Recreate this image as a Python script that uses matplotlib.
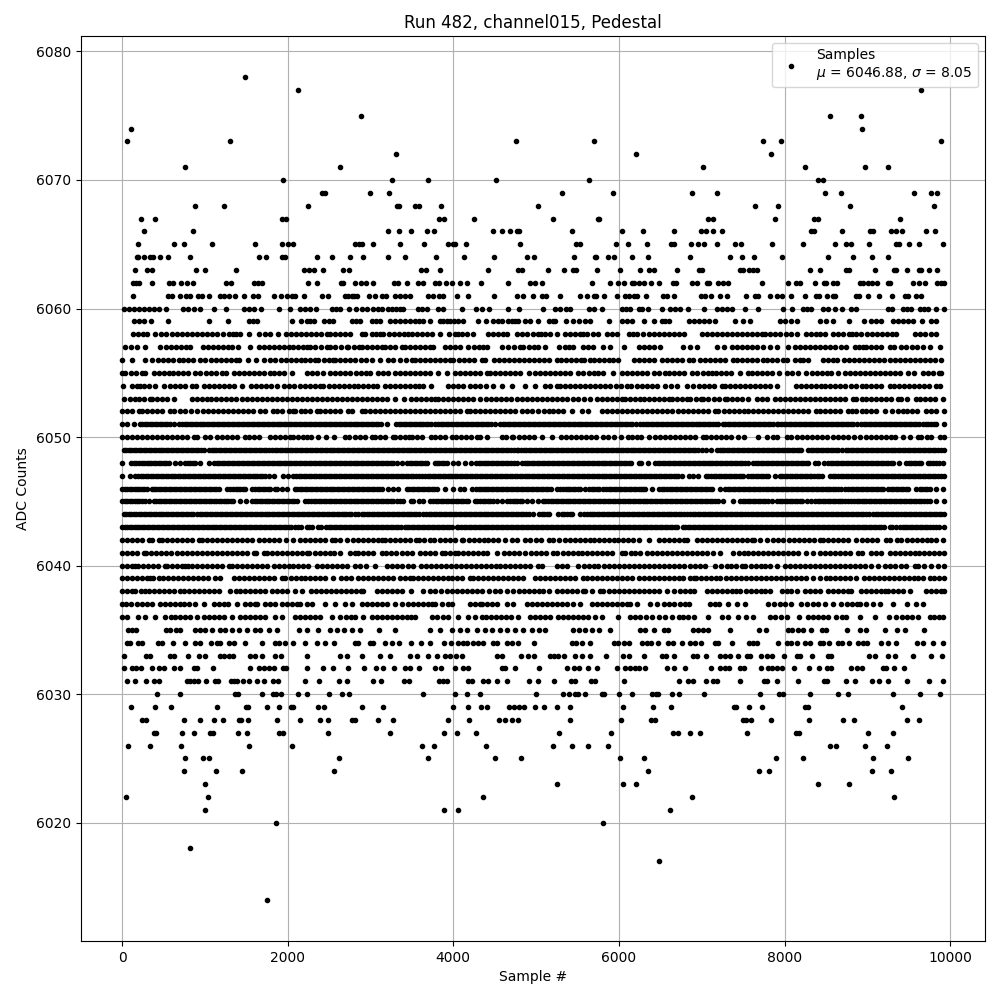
import matplotlib
matplotlib.use('Agg')
import matplotlib.pyplot as plt

# sample numbers, one list per ADC count
s6014 = [1745]
s6017 = [6490]
s6018 = [816]
s6020 = [1853, 5803]
s6021 = [997, 3891, 4060, 6622]
s6022 = [44, 1033, 4362, 6888, 9321]
s6023 = [997, 5249, 6044, 6201, 8406, 8779]
s6024 = [744, 1130, 1443, 2565, 6357, 7695, 7815, 9056, 9285]
s6025 = [756, 973, 1045, 2625, 3698, 4506, 4820, 6008, 6309, 7900, 8225, 9068, 9490]
s6026 = [68, 334, 708, 1528, 2058, 3626, 3771, 4398, 5201, 5430, 5622, 5863, 8550, 8622, 8972, 9237]
s6027 = [382, 414, 720, 864, 1057, 1093, 1395, 1503, 1901, 1942, 2492, 3240, 3891, 4048, 4277,
         5273, 5900, 6659, 6719, 6863, 6984, 7550, 8140, 8177, 9008, 9309]
s6028 = [245, 285, 744, 937, 1105, 1214, 1407, 1431, 1515, 1865, 2143, 2396, 2492, 2782, 2818, 3095, 3276,
         3932, 4193, 4555, 4627, 4711, 4784, 5406, 6020, 6382, 6430, 7502, 7538, 7598, 7839, 8297, 8707,
         8839, 9478, 9622]
s6029 = [105, 394, 587, 1142, 1491, 1520, 1745, 1901, 2038, 2062, 2360, 2444, 2902, 3156, 3992, 4181, 4338,
         4410, 4675, 4728, 4792, 4856, 4989, 5092, 5249, 5406, 6044, 6406, 6635, 7390, 7414, 7574, 7731,
         8249, 8285, 9422]
s6030 = [418, 695, 1359, 1395, 1684, 1825, 1857, 1922, 2119, 2239, 2504, 2661, 2746, 3638, 4024, 4161, 4325,
         5001, 5321, 5394, 5466, 5502, 5586, 5791, 5815, 5996, 6153, 6394, 6442, 6478, 6647, 6731, 7032,
         7707, 7936, 7984, 8309, 8646, 8767, 9309, 9634, 9875]
s6031 = [56, 153, 293, 382, 442, 780, 816, 864, 913, 1009, 1118, 1154, 1311, 1347, 1383, 1455, 1528, 1624,
         1712, 1817, 1877, 2215, 2384, 2625, 2722, 3035, 3132, 3409, 3469, 3831, 3879, 3928, 4181, 4229,
         4362, 4422, 4530, 4651, 4916, 5020, 5213, 5418, 5466, 5659, 5707, 6056, 6731, 6839, 6900, 7056,
         7141, 7181, 7466, 7755, 7791, 7912, 8165, 8478, 8514, 8743, 8851, 9056, 9140, 9249, 9478, 9743, 9912]
s6032 = [20, 125, 165, 225, 366, 442, 502, 623, 695, 864, 905, 1093, 1540, 1648, 1708, 1769, 1829, 1942,
         1974, 2239, 2432, 2553, 2734, 2927, 3071, 3156, 3288, 3417, 3477, 3590, 3783, 3847, 4016, 4121,
         4181, 4583, 4623, 4744, 5032, 5370, 5454, 5514, 5622, 5731, 5972, 6068, 6128, 6189, 6237, 6321,
         6586, 6671, 6799, 7116, 7225, 7281, 7333, 7466, 7514, 7719, 7803, 7851, 7912, 7964, 8116, 8297,
         8418, 8514, 8558, 8803, 8875, 8936, 9189, 9229, 9321, 9442]
s6033 = [28, 285, 342, 575, 631, 792, 929, 1001, 1178, 1226, 1286, 1335, 1548, 1608, 1692, 1841, 1914, 2239,
         2633, 2714, 2902, 3120, 3240, 3481, 3566, 3698, 3799, 3899, 3960, 4036, 4100, 4522, 4583, 4812,
         4904, 4972, 5173, 5221, 5261, 5333, 5466, 5550, 5647, 5839, 6044, 6116, 6297, 6526, 6570, 6667,
         6900, 6940, 7052, 7221, 7281, 7341, 7442, 7542, 7582, 7719, 7791, 7851, 7996, 8145, 8193, 8333,
         8526, 8566, 9020, 9092, 9249, 9333, 9546, 9767, 9900]
s6034 = [60, 100, 189, 241, 430, 482, 611, 756, 884, 945, 1073, 1146, 1186, 1294, 1347, 1479, 1688, 1849,
         1889, 1970, 2070, 2215, 2348, 2456, 2565, 2818, 2854, 2995, 3035, 3176, 3264, 3349, 3493, 3614,
         3723, 3883, 3976, 4060, 4121, 4169, 4241, 4301, 4354, 4482, 4530, 4643, 4703, 4784, 4980, 5430,
         5486, 5550, 5647, 5936, 5984, 6056, 6116, 6277, 6337, 6386, 6478, 6598, 6659, 6767, 6859, 6920,
         6988, 7161, 7201, 7369, 7574, 7622, 7671, 7924, 8028, 8084, 8145, 8245, 8305, 8426, 8466, 8538,
         8646, 8695, 8775, 8888, 8948, 8996, 9165, 9249, 9349, 9598, 9671, 9791, 9912]
s6035 = [68, 125, 169, 535, 583, 647, 703, 884, 945, 1005, 1085, 1186, 1246, 1327, 1407, 1508, 1608, 1668,
         1769, 1865, 2131, 2231, 2360, 2513, 2593, 2685, 2782, 2870, 3108, 3300, 3719, 3839, 3980, 4080,
         4161, 4289, 4382, 4462, 4563, 4643, 4744, 4844, 4952, 5032, 5112, 5442, 5514, 5594, 5675, 5755,
         5888, 6257, 6317, 6418, 6550, 6598, 6892, 6960, 7020, 7080, 7345, 7695, 7775, 8044, 8092, 8165,
         8225, 8321, 8458, 8498, 8755, 8908, 8980, 9213, 9357, 9450, 9683]
s6036 = [0, 60, 189, 281, 394, 523, 585, 640, 700, 760, 824, 905, 993, 1050, 1110, 1170, 1230, 1327, 1427,
         1490, 1550, 1610, 1670, 1729, 1849, 1930, 2090, 2150, 2210, 2270, 2330, 2392, 2533, 2633, 2700,
         2760, 2814, 2915, 3015, 3075, 3135, 3195, 3255, 3315, 3375, 3435, 3490, 3536, 3738, 3800, 3880,
         3940, 4060, 4181, 4262, 4343, 4400, 4460, 4520, 4580, 4640, 4700, 4786, 4927, 4990, 5050, 5110,
         5169, 5269, 5330, 5390, 5450, 5510, 5572, 5632, 5710, 5793, 5995, 6136, 6200, 6260, 6330, 6398,
         6479, 6560, 6640, 6720, 6780, 6839, 6908, 7080, 7241, 7321, 7442, 7530, 7622, 7823, 7890, 7960,
         8024, 8177, 8285, 8345, 8405, 8465, 8526, 8626, 8690, 8747, 8908, 9088, 9261, 9349, 9415, 9480,
         9545, 9610, 9751, 9810, 9870, 9920]
s6037 = [0, 52, 113, 181, 240, 300, 362, 462, 520, 575, 643, 700, 750, 804, 884, 985, 1105, 1165, 1225, 1285,
         1387, 1487, 1550, 1608, 1628, 1729, 1790, 1850, 1930, 1990, 2050, 2110, 2151, 2231, 2291, 2452,
         2573, 2693, 2774, 2894, 2955, 3015, 3075, 3135, 3195, 3294, 3375, 3456, 3515, 3575, 3635, 3695,
         3738, 3778, 3860, 3939, 3988, 4202, 4262, 4322, 4350, 4410, 4470, 4524, 4645, 4725, 4887, 4950,
         5010, 5070, 5130, 5190, 5250, 5310, 5370, 5451, 5532, 5673, 5735, 5795, 5855, 5915, 5975, 6035,
         6095, 6136, 6217, 6378, 6460, 6539, 6600, 6670, 6741, 6800, 6852, 7100, 7161, 7213, 7321, 7422,
         7522, 7803, 7870, 7940, 8010, 8084, 8205, 8270, 8340, 8410, 8486, 8586, 8687, 8750, 8810, 8870,
         8908, 8988, 9070, 9149, 9309, 9478, 9590, 9671]
s6038 = [0, 60, 120, 161, 225, 281, 321, 382, 445, 505, 565, 625, 703, 743, 805, 865, 925, 985, 1045, 1105,
         1166, 1307, 1370, 1430, 1490, 1550, 1610, 1670, 1730, 1809, 1869, 1930, 1990, 2090, 2171, 2279,
         2340, 2400, 2460, 2520, 2580, 2640, 2700, 2760, 2820, 2880, 2915, 3075, 3140, 3200, 3256, 3315,
         3375, 3484, 3637, 3718, 3778, 3847, 3919, 3985, 4045, 4105, 4165, 4225, 4282, 4350, 4435, 4500,
         4564, 4645, 4725, 4790, 4850, 4910, 4970, 5030, 5088, 5161, 5249, 5310, 5370, 5430, 5490, 5572,
         5592, 5680, 5773, 5813, 5880, 5940, 6000, 6060, 6120, 6180, 6240, 6300, 6360, 6420, 6480, 6580,
         6660, 6740, 6800, 6860, 6907, 7060, 7125, 7185, 7245, 7301, 7361, 7413, 7462, 7530, 7590, 7650,
         7710, 7770, 7823, 7964, 8025, 8084, 8153, 8245, 8310, 8370, 8430, 8526, 8586, 8650, 8710, 8770,
         8807, 8928, 8990, 9050, 9110, 9170, 9209, 9249, 9315, 9375, 9435, 9510, 9711, 9770, 9830, 9890,
         9925]
s6039 = [0, 60, 120, 180, 240, 300, 342, 374, 440, 500, 560, 620, 680, 740, 800, 860, 920, 980, 1040, 1126,
         1186, 1347, 1410, 1470, 1530, 1590, 1650, 1710, 1770, 1830, 1930, 1970, 2035, 2095, 2155, 2215,
         2275, 2335, 2395, 2455, 2553, 2641, 2700, 2760, 2854, 2914, 2975, 3035, 3095, 3155, 3215, 3275,
         3357, 3415, 3476, 3508, 3570, 3630, 3690, 3750, 3810, 3870, 3930, 3990, 4050, 4110, 4202, 4242,
         4300, 4360, 4423, 4476, 4540, 4600, 4660, 4720, 4780, 4846, 4987, 5048, 5108, 5170, 5230, 5290,
         5350, 5410, 5470, 5572, 5613, 5675, 5735, 5795, 5855, 5915, 5975, 6035, 6095, 6155, 6237, 6300,
         6360, 6420, 6480, 6540, 6600, 6660, 6720, 6780, 6860, 6907, 6932, 6995, 7055, 7115, 7175, 7221,
         7293, 7355, 7415, 7475, 7535, 7595, 7655, 7715, 7775, 7835, 7895, 7955, 8015, 8075, 8135, 8195,
         8255, 8345, 8434, 8495, 8555, 8615, 8675, 8735, 8787, 8867, 8956, 9020, 9080, 9140, 9200, 9260,
         9320, 9380, 9440, 9500, 9560, 9610, 9671, 9751, 9810, 9870, 9925]
s6040 = [0, 60, 120, 161, 193, 255, 315, 375, 435, 523, 543, 605, 665, 725, 764, 792, 844, 905, 965, 1025,
         1085, 1145, 1205, 1286, 1327, 1390, 1450, 1510, 1570, 1630, 1690, 1750, 1829, 1889, 1950, 2010,
         2070, 2130, 2190, 2250, 2352, 2412, 2475, 2535, 2595, 2655, 2715, 2814, 2874, 2947, 3055, 3196,
         3260, 3320, 3380, 3456, 3516, 3605, 3670, 3730, 3790, 3850, 3910, 3970, 4030, 4090, 4150, 4210,
         4270, 4330, 4390, 4450, 4510, 4570, 4625, 4690, 4750, 4810, 4870, 4930, 5028, 5068, 5249, 5310,
         5370, 5511, 5575, 5635, 5695, 5753, 5822, 5885, 5945, 6005, 6065, 6125, 6185, 6245, 6305, 6365,
         6425, 6485, 6545, 6605, 6665, 6725, 6785, 6860, 6920, 6980, 7040, 7161, 7230, 7301, 7349, 7420,
         7482, 7522, 7590, 7650, 7710, 7770, 7830, 7912, 8004, 8070, 8130, 8190, 8250, 8310, 8370, 8430,
         8490, 8550, 8610, 8670, 8730, 8790, 8850, 8910, 8970, 9048, 9128, 9209, 9270, 9330, 9410, 9470,
         9570, 9610, 9680, 9771, 9851, 9925]
s6041 = [0, 60, 120, 180, 261, 289, 350, 410, 470, 530, 590, 663, 723, 785, 845, 905, 965, 1025, 1085, 1145,
         1205, 1265, 1325, 1385, 1445, 1505, 1588, 1616, 1708, 1749, 1810, 1870, 1930, 1990, 2050, 2110,
         2170, 2231, 2263, 2325, 2385, 2445, 2505, 2565, 2633, 2754, 2814, 2854, 2915, 2975, 3035, 3136,
         3188, 3250, 3310, 3380, 3444, 3504, 3597, 3660, 3720, 3780, 3859, 3899, 3960, 4020, 4052, 4115,
         4175, 4235, 4295, 4363, 4403, 4524, 4612, 4675, 4735, 4795, 4866, 4935, 5000, 5060, 5120, 5209,
         5257, 5320, 5380, 5440, 5500, 5560, 5620, 5680, 5740, 5800, 5860, 5920, 6035, 6076, 6140, 6200,
         6260, 6337, 6398, 6460, 6520, 6580, 6640, 6700, 6760, 6821, 6880, 6940, 7000, 7060, 7141, 7221,
         7381, 7445, 7505, 7565, 7625, 7685, 7745, 7805, 7865, 7925, 7985, 8045, 8105, 8165, 8257, 8345,
         8426, 8490, 8550, 8610, 8670, 8730, 8790, 8888, 8936, 9048, 9110, 9168, 9269, 9330, 9390, 9450,
         9510, 9570, 9630, 9690, 9750, 9810, 9870, 9925]
s6042 = [0, 60, 120, 180, 240, 321, 362, 442, 482, 545, 605, 665, 725, 785, 845, 925, 965, 1030, 1090, 1150,
         1210, 1270, 1330, 1390, 1450, 1510, 1570, 1648, 1708, 1770, 1830, 1889, 1982, 2070, 2151, 2215,
         2275, 2335, 2395, 2455, 2533, 2573, 2633, 2722, 2785, 2845, 2905, 2965, 3025, 3085, 3136, 3176,
         3240, 3300, 3360, 3420, 3480, 3549, 3590, 3650, 3718, 3770, 3839, 3900, 3960, 4020, 4101, 4121,
         4185, 4245, 4305, 4365, 4425, 4485, 4545, 4625, 4705, 4770, 4866, 4927, 4995, 5060, 5157, 5209,
         5282, 5345, 5405, 5465, 5525, 5585, 5645, 5705, 5765, 5825, 5885, 5945, 5995, 6044, 6110, 6170,
         6237, 6358, 6479, 6545, 6605, 6665, 6725, 6785, 6827, 6940, 7005, 7065, 7125, 7185, 7245, 7305,
         7365, 7425, 7485, 7545, 7602, 7635, 7700, 7783, 7863, 7925, 7984, 8056, 8120, 8180, 8240, 8300,
         8360, 8426, 8466, 8530, 8590, 8650, 8710, 8770, 8867, 8936, 9000, 9060, 9120, 9229, 9269, 9361,
         9410, 9475, 9535, 9595, 9655, 9715, 9775, 9835, 9912]
s6043 = [0, 30, 60, 90, 120, 150, 180, 210, 240, 270, 300, 330, 360, 390, 420, 450, 480, 510, 540, 570, 600,
         630, 660, 690, 720, 750, 780, 810, 840, 870, 900, 930, 960, 990, 1020, 1050, 1080, 1110, 1140, 1170,
         1200, 1230, 1260, 1290, 1320, 1350, 1380, 1410, 1440, 1470, 1500, 1530, 1560, 1590, 1620, 1650,
         1680, 1710, 1740, 1770, 1800, 1830, 1860, 1890, 1920, 1950, 1980, 2010, 2040, 2085, 2130, 2163,
         2230, 2290, 2372, 2404, 2465, 2525, 2585, 2645, 2705, 2765, 2825, 2885, 2945, 3005, 3065, 3125,
         3185, 3245, 3305, 3365, 3415, 3436, 3500, 3560, 3620, 3680, 3740, 3800, 3860, 3920, 3980, 4040,
         4060, 4125, 4185, 4245, 4305, 4365, 4425, 4485, 4545, 4605, 4665, 4725, 4785, 4845, 4905, 4965,
         5025, 5085, 5145, 5205, 5265, 5325, 5385, 5445, 5505, 5565, 5625, 5685, 5745, 5805, 5865, 5925,
         5985, 6045, 6105, 6165, 6225, 6285, 6345, 6405, 6465, 6525, 6585, 6645, 6705, 6771, 6799, 6860,
         6920, 6980, 7040, 7100, 7160, 7220, 7280, 7340, 7400, 7460, 7520, 7580, 7640, 7700, 7760, 7820,
         7880, 7940, 8000, 8060, 8120, 8180, 8240, 8300, 8360, 8420, 8480, 8540, 8600, 8660, 8720, 8780,
         8840, 8900, 8960, 9020, 9080, 9140, 9200, 9269, 9301, 9349, 9390, 9455, 9515, 9575, 9635, 9695,
         9755, 9831, 9864, 9925,
         2260, 2495, 2555, 2615, 2675, 2735, 2795, 2855, 2915, 2975, 3035, 3095, 3155, 3215, 3275, 3335, 3470,
         3530, 3590, 3650, 3710, 3770, 3830, 3890, 3950, 4095, 4155, 4215, 4275, 4335, 4395, 4455, 4515, 4575,
         4635, 4695, 4755, 4815, 4875, 4935, 4995, 5055, 5115, 5175, 5235, 5295, 5355, 5415, 5475, 5535, 5595,
         5655, 5715, 5775, 5835, 5895, 5955, 6015, 6075, 6135, 6195, 6255, 6315, 6375, 6435, 6495, 6555, 6615,
         6675, 6830, 6890, 6950, 7010, 7070, 7130, 7190, 7250, 7310, 7370, 7430, 7490, 7550, 7610, 7670, 7730,
         7790, 7850, 7910, 7970, 8030, 8090, 8150, 8210, 8270, 8330, 8390, 8450, 8510, 8570, 8630, 8690, 8750,
         8810, 8870, 8930, 8990, 9050, 9110, 9170, 9425, 9485, 9545, 9605, 9665, 9725, 9790]
s6044 = [20, 80, 140, 200, 260, 320, 380, 440, 500, 560, 620, 680, 740, 800, 860, 945, 965, 1030, 1090, 1150,
         1210, 1270, 1330, 1390, 1450, 1510, 1570, 1630, 1690, 1750, 1810, 1870, 1930, 1990, 2050, 2110,
         2170, 2230, 2290, 2350, 2410, 2470, 2530, 2590, 2650, 2710, 2770, 2854, 2894, 2955, 3015, 3075,
         3135, 3195, 3255, 3315, 3375, 3435, 3495, 3555, 3629, 3670, 3735, 3795, 3855, 3915, 3975, 4035,
         4095, 4155, 4215, 4275, 4335, 4395, 4455, 4515, 4575, 4635, 4695, 4755, 4815, 4875, 4967, 5036,
         5100, 5160, 5269, 5310, 5375, 5435, 5532, 5580, 5645, 5705, 5765, 5825, 5885, 5945, 6005, 6065,
         6125, 6185, 6245, 6305, 6365, 6425, 6485, 6545, 6605, 6665, 6725, 6785, 6859, 6920, 6980, 7040,
         7100, 7160, 7220, 7280, 7340, 7400, 7460, 7522, 7562, 7625, 7685, 7745, 7805, 7865, 7925, 7985,
         8045, 8105, 8165, 8225, 8285, 8345, 8405, 8466, 8498, 8560, 8620, 8680, 8740, 8800, 8860, 8920,
         8980, 9068, 9100, 9165, 9225, 9285, 9345, 9410, 9438, 9500, 9560, 9620, 9680, 9740, 9800, 9860,
         9925,
         50, 110, 170, 230, 290, 350, 410, 470, 530, 590, 650, 710, 770, 830, 900, 1000, 1060, 1120, 1180, 1240,
         1300, 1360, 1420, 1480, 1540, 1600, 1660, 1720, 1780, 1840, 1900, 1960, 2020, 2080, 2140, 2200, 2260,
         2320, 2380, 2440, 2500, 2560, 2620, 2680, 2740, 2810, 2925, 2985, 3045, 3105, 3165, 3225, 3285, 3345,
         3405, 3465, 3525, 3590, 3705, 3765, 3825, 3885, 3945, 4005, 4065, 4125, 4185, 4245, 4305, 4365, 4425,
         4485, 4545, 4605, 4665, 4725, 4785, 4845, 4920, 5070, 5130, 5340, 5405, 5610, 5675, 5735, 5795, 5855,
         5915, 5975, 6035, 6095, 6155, 6215, 6275, 6335, 6395, 6455, 6515, 6575, 6635, 6695, 6755, 6820, 6890,
         6950, 7010, 7070, 7130, 7190, 7250, 7310, 7370, 7430, 7490, 7595, 7655, 7715, 7775, 7835, 7895, 7955,
         8015, 8075, 8135, 8195, 8255, 8315, 8375, 8435, 8530, 8590, 8650, 8710, 8770, 8830, 8890, 8950, 9020,
         9130, 9195, 9255, 9315, 9375, 9470, 9530, 9590, 9650, 9710, 9770, 9830, 9890]
s6045 = [0, 60, 120, 180, 240, 321, 382, 445, 505, 565, 625, 685, 745, 805, 865, 925, 985, 1045, 1105, 1165,
         1225, 1285, 1345, 1427, 1495, 1568, 1630, 1690, 1750, 1810, 1870, 1930, 1990, 2050, 2110, 2211,
         2251, 2315, 2375, 2435, 2495, 2555, 2615, 2675, 2735, 2795, 2855, 2915, 2975, 3035, 3095, 3155,
         3215, 3277, 3317, 3355, 3395, 3484, 3516, 3580, 3640, 3718, 3758, 3820, 3880, 3940, 4000, 4060,
         4120, 4180, 4262, 4290, 4355, 4415, 4475, 4532, 4592, 4653, 4715, 4775, 4835, 4887, 4947, 5028,
         5080, 5145, 5205, 5265, 5325, 5385, 5445, 5505, 5565, 5625, 5685, 5745, 5805, 5865, 5925, 5985,
         6045, 6105, 6165, 6225, 6285, 6345, 6405, 6465, 6525, 6585, 6645, 6705, 6765, 6825, 6885, 6945,
         7005, 7065, 7125, 7201, 7253, 7381, 7462, 7525, 7585, 7645, 7705, 7765, 7843, 7912, 7975, 8035,
         8095, 8155, 8215, 8325, 8366, 8430, 8490, 8550, 8610, 8670, 8730, 8807, 8835, 8900, 8960, 9020,
         9080, 9140, 9200, 9260, 9320, 9380, 9440, 9500, 9560, 9620, 9680, 9751, 9831, 9925,
         30, 90, 150, 210, 280, 415, 475, 535, 595, 655, 715, 775, 835, 895, 955, 1015, 1075, 1135, 1195, 1255,
         1315, 1600, 1660, 1720, 1780, 1840, 1900, 1960, 2020, 2080, 2285, 2345, 2405, 2465, 2525, 2585, 2645,
         2705, 2765, 2825, 2885, 2945, 3005, 3065, 3125, 3185, 3245, 3790, 3850, 3910, 3970, 4030, 4090, 4150,
         4320, 4385, 4445, 4690, 4745, 4805, 5110, 5175, 5235, 5295, 5355, 5415, 5475, 5535, 5595, 5655, 5715,
         5775, 5835, 5895, 5955, 6015, 6075, 6135, 6195, 6255, 6315, 6375, 6435, 6495, 6555, 6615, 6675, 6735,
         6795, 6855, 6915, 6975, 7035, 7095, 7160, 7495, 7555, 7615, 7675, 7735, 7800, 7945, 8005, 8065, 8125,
         8185, 8275, 8400, 8460, 8520, 8580, 8640, 8700, 8770, 8870, 8930, 8990, 9050, 9110, 9170, 9230, 9290,
         9350, 9410, 9470, 9530, 9590, 9650, 9715]
s6046 = [0, 60, 120, 180, 240, 300, 362, 382, 445, 505, 565, 625, 685, 745, 805, 865, 925, 985, 1045, 1105,
         1165, 1266, 1307, 1370, 1430, 1490, 1568, 1608, 1670, 1730, 1790, 1849, 1869, 1930, 1990, 2090,
         2110, 2175, 2235, 2295, 2355, 2415, 2475, 2535, 2595, 2655, 2715, 2775, 2835, 2895, 2955, 3015,
         3075, 3135, 3216, 3268, 3335, 3436, 3500, 3560, 3620, 3680, 3740, 3800, 3899, 4000, 4081, 4129,
         4222, 4274, 4335, 4395, 4455, 4515, 4575, 4635, 4695, 4755, 4815, 4875, 4935, 4995, 5055, 5115,
         5175, 5249, 5290, 5355, 5415, 5475, 5535, 5592, 5640, 5705, 5765, 5813, 5846, 5910, 5970, 6030,
         6090, 6150, 6210, 6270, 6317, 6398, 6479, 6519, 6585, 6645, 6705, 6765, 6825, 6885, 6945, 7005,
         7065, 7121, 7221, 7281, 7345, 7405, 7465, 7525, 7585, 7645, 7703, 7743, 7805, 7865, 7925, 7985,
         8045, 8105, 8165, 8225, 8285, 8345, 8405, 8465, 8525, 8585, 8645, 8727, 8767, 8830, 8890, 8950,
         9010, 9070, 9130, 9189, 9249, 9315, 9375, 9435, 9495, 9590, 9631, 9695, 9755, 9831, 9912,
         30, 90, 150, 210, 270, 415, 475, 535, 595, 655, 715, 775, 835, 895, 955, 1015, 1075, 1135, 1340, 1400,
         1460, 1640, 1700, 1760, 2145, 2205, 2265, 2325, 2385, 2445, 2505, 2565, 2625, 2685, 2745, 2805, 2865,
         2925, 2985, 3045, 3105, 3470, 3530, 3590, 3650, 3710, 3770, 4305, 4365, 4425, 4485, 4545, 4605, 4665,
         4725, 4785, 4845, 4905, 4965, 5025, 5085, 5145, 5320, 5385, 5445, 5505, 5675, 5735, 5880, 5940, 6000,
         6060, 6120, 6180, 6240, 6295, 6550, 6615, 6675, 6735, 6795, 6855, 6915, 6975, 7035, 7095, 7315, 7375,
         7435, 7495, 7555, 7615, 7675, 7775, 7835, 7895, 7955, 8015, 8075, 8135, 8195, 8255, 8315, 8375, 8435,
         8495, 8555, 8615, 8685, 8800, 8860, 8920, 8980, 9040, 9100, 9160, 9285, 9345, 9405, 9465, 9665, 9725]
s6047 = [0, 100, 161, 225, 285, 345, 405, 465, 525, 585, 645, 705, 765, 825, 885, 945, 1005, 1065, 1125, 1185,
         1245, 1305, 1365, 1425, 1485, 1545, 1605, 1665, 1725, 1829, 1942, 2005, 2062, 2102, 2165, 2225,
         2285, 2345, 2405, 2465, 2525, 2585, 2645, 2705, 2765, 2825, 2885, 2945, 3005, 3065, 3125, 3185,
         3245, 3305, 3365, 3425, 3485, 3545, 3617, 3657, 3720, 3780, 3840, 3900, 3960, 4020, 4080, 4140,
         4200, 4260, 4320, 4380, 4440, 4500, 4560, 4620, 4680, 4740, 4800, 4860, 4920, 4980, 5040, 5100,
         5160, 5220, 5280, 5340, 5400, 5460, 5520, 5580, 5640, 5700, 5760, 5820, 5880, 5940, 6000, 6060,
         6120, 6180, 6240, 6300, 6360, 6420, 6480, 6540, 6600, 6660, 6719, 6759, 6841, 6900, 6960, 7052,
         7080, 7145, 7205, 7265, 7325, 7385, 7445, 7502, 7562, 7625, 7685, 7745, 7805, 7884, 7944, 8005,
         8065, 8125, 8185, 8245, 8305, 8325, 8390, 8450, 8546, 8586, 8650, 8710, 8770, 8830, 8890, 8950,
         9010, 9070, 9130, 9190, 9250, 9310, 9370, 9430, 9490, 9550, 9610, 9670, 9730, 9790, 9850, 9925,
         190, 255, 315, 375, 435, 495, 555, 615, 675, 735, 795, 855, 915, 975, 1035, 1095, 1155, 1215, 1275, 1335,
         1395, 1455, 1515, 1575, 1635, 1695, 1780, 2135, 2195, 2255, 2315, 2375, 2435, 2495, 2555, 2615, 2675,
         2735, 2795, 2855, 2915, 2975, 3035, 3095, 3155, 3215, 3275, 3335, 3395, 3455, 3515, 3580, 3690, 3750,
         3810, 3870, 3930, 3990, 4050, 4110, 4170, 4230, 4290, 4350, 4410, 4470, 4530, 4590, 4650, 4710, 4770,
         4830, 4890, 4950, 5010, 5070, 5130, 5190, 5250, 5310, 5370, 5430, 5490, 5550, 5610, 5670, 5730, 5790,
         5850, 5910, 5970, 6030, 6090, 6150, 6210, 6270, 6330, 6390, 6450, 6510, 6570, 6630, 6690, 7110, 7175,
         7235, 7295, 7355, 7415, 7475, 7595, 7655, 7715, 7775, 7975, 8035, 8095, 8155, 8215, 8275, 8355, 8420,
         8615, 8680, 8740, 8800, 8860, 8920, 8980, 9040, 9100, 9160, 9220, 9280, 9340, 9400, 9460, 9520, 9580,
         9640, 9700, 9760, 9820, 9885]
s6048 = [0, 109, 141, 205, 265, 325, 385, 445, 505, 565, 643, 695, 764, 825, 885, 945, 1045, 1113, 1175, 1235,
         1295, 1355, 1415, 1475, 1535, 1595, 1655, 1715, 1775, 1835, 1895, 1955, 2015, 2075, 2135, 2195,
         2255, 2315, 2375, 2435, 2495, 2555, 2615, 2675, 2735, 2795, 2855, 2915, 2975, 3035, 3095, 3155,
         3215, 3277, 3317, 3375, 3444, 3505, 3565, 3625, 3685, 3778, 3798, 3860, 3920, 4000, 4060, 4141,
         4210, 4274, 4335, 4395, 4455, 4515, 4575, 4635, 4695, 4766, 4826, 4890, 4950, 5010, 5070, 5130,
         5190, 5250, 5310, 5370, 5430, 5490, 5550, 5610, 5670, 5730, 5790, 5850, 5910, 5970, 6030, 6090,
         6150, 6237, 6265, 6346, 6438, 6500, 6560, 6620, 6680, 6740, 6800, 6860, 6920, 6980, 7040, 7100,
         7160, 7220, 7280, 7340, 7400, 7460, 7522, 7562, 7622, 7685, 7745, 7805, 7865, 7925, 7985, 8045,
         8105, 8165, 8225, 8285, 8366, 8406, 8478, 8526, 8590, 8650, 8710, 8770, 8830, 8890, 8950, 9010,
         9070, 9130, 9190, 9250, 9309, 9381, 9470, 9530, 9590, 9650, 9731, 9759, 9825, 9912,
         170, 235, 295, 355, 415, 475, 535, 795, 855, 1145, 1205, 1265, 1325, 1385, 1445, 1505, 1565, 1625, 1685,
         1745, 1805, 1865, 1925, 1985, 2045, 2105, 2165, 2225, 2285, 2345, 2405, 2465, 2525, 2585, 2645, 2705,
         2765, 2825, 2885, 2945, 3005, 3065, 3125, 3185, 3245, 3475, 3535, 3595, 3655, 3830, 3890, 4305, 4365,
         4425, 4485, 4545, 4605, 4665, 4730, 4860, 4920, 4980, 5040, 5100, 5160, 5220, 5280, 5340, 5400, 5460,
         5520, 5580, 5640, 5700, 5760, 5820, 5880, 5940, 6000, 6060, 6120, 6470, 6530, 6590, 6650, 6710, 6770,
         6830, 6890, 6950, 7010, 7070, 7130, 7190, 7250, 7310, 7370, 7430, 7490, 7655, 7715, 7775, 7835, 7895,
         7955, 8015, 8075, 8135, 8195, 8255, 8560, 8620, 8680, 8740, 8800, 8860, 8920, 8980, 9040, 9100, 9160,
         9220, 9280, 9500, 9560, 9620, 9795, 9870]
s6049 = [20, 80, 140, 200, 260, 320, 380, 440, 500, 560, 620, 680, 740, 800, 860, 920, 985, 1045, 1110, 1170,
         1230, 1290, 1350, 1410, 1470, 1530, 1590, 1650, 1710, 1769, 1809, 1875, 1935, 1995, 2055, 2115,
         2175, 2235, 2295, 2355, 2415, 2475, 2535, 2595, 2655, 2715, 2775, 2835, 2895, 2955, 3015, 3075,
         3135, 3195, 3255, 3315, 3375, 3435, 3495, 3555, 3615, 3675, 3735, 3795, 3855, 3915, 3975, 4035,
         4095, 4155, 4215, 4275, 4335, 4395, 4455, 4515, 4575, 4635, 4695, 4766, 4786, 4850, 4910, 4970,
         5030, 5090, 5150, 5210, 5270, 5330, 5390, 5450, 5510, 5570, 5630, 5690, 5750, 5810, 5870, 5930,
         5990, 6050, 6110, 6170, 6230, 6290, 6350, 6410, 6470, 6530, 6590, 6650, 6710, 6770, 6830, 6890,
         6950, 7052, 7116, 7181, 7245, 7305, 7365, 7425, 7485, 7545, 7605, 7665, 7725, 7785, 7845, 7905,
         7965, 8025, 8085, 8145, 8205, 8285, 8350, 8410, 8470, 8530, 8590, 8650, 8739, 8767, 8830, 8890,
         8950, 9010, 9070, 9130, 9190, 9250, 9310, 9370, 9430, 9490, 9550, 9610, 9670, 9730, 9790, 9850,
         9925,
         50, 110, 170, 230, 290, 350, 410, 470, 530, 590, 650, 710, 770, 830, 890, 950, 1080, 1140, 1200, 1260,
         1320, 1380, 1440, 1500, 1560, 1620, 1680, 1740, 1845, 1905, 1965, 2025, 2085, 2145, 2205, 2265, 2325,
         2385, 2445, 2505, 2565, 2625, 2685, 2745, 2805, 2865, 2925, 2985, 3045, 3105, 3165, 3225, 3285, 3345,
         3405, 3465, 3525, 3585, 3645, 3705, 3765, 3825, 3885, 3945, 4005, 4065, 4125, 4185, 4245, 4305, 4365,
         4425, 4485, 4545, 4605, 4665, 4730, 4820, 4880, 4940, 5000, 5060, 5120, 5180, 5240, 5300, 5360, 5420,
         5480, 5540, 5600, 5660, 5720, 5780, 5840, 5900, 5960, 6020, 6080, 6140, 6200, 6260, 6320, 6380, 6440,
         6500, 6560, 6620, 6680, 6740, 6800, 6860, 6920, 7000, 7215, 7275, 7335, 7395, 7455, 7515, 7575, 7635,
         7695, 7755, 7815, 7875, 7935, 7995, 8055, 8115, 8175, 8320, 8380, 8440, 8500, 8560, 8620, 8695, 8800,
         8860, 8920, 8980, 9040, 9100, 9160, 9220, 9280, 9340, 9400, 9460, 9520, 9580, 9640, 9700, 9760, 9820,
         9885]
s6050 = [0, 60, 120, 180, 240, 300, 360, 420, 480, 540, 600, 660, 720, 780, 864, 905, 1005, 1065, 1146, 1210,
         1270, 1330, 1390, 1487, 1528, 1590, 1648, 1781, 1845, 1905, 1965, 2030, 2062, 2125, 2185, 2231,
         2279, 2372, 2460, 2565, 2693, 2746, 2810, 2870, 2930, 3015, 3055, 3120, 3180, 3277, 3297, 3360,
         3420, 3468, 3496, 3560, 3620, 3726, 3778, 3840, 3900, 3980, 4032, 4095, 4155, 4215, 4290, 4322,
         4403, 4584, 4640, 4705, 4725, 4790, 4850, 4910, 4970, 5068, 5193, 5298, 5360, 5420, 5480, 5540,
         5600, 5660, 5725, 5813, 5874, 5935, 6023, 6104, 6156, 6220, 6265, 6358, 6438, 6500, 6560, 6620,
         6680, 6740, 6800, 6860, 6920, 7020, 7052, 7115, 7175, 7235, 7295, 7355, 7442, 7514, 7683, 7791,
         7855, 7915, 8024, 8084, 8145, 8210, 8270, 8330, 8390, 8450, 8510, 8586, 8647, 8707, 8770, 8839,
         8916, 8980, 9040, 9100, 9160, 9220, 9280, 9340, 9430, 9518, 9610, 9651, 9715, 9775, 9872, 9924]
s6051 = [0, 60, 141, 213, 275, 335, 395, 455, 515, 575, 683, 723, 785, 845, 905, 965, 1025, 1085, 1145, 1205,
         1265, 1325, 1385, 1445, 1505, 1565, 1625, 1685, 1745, 1805, 1865, 1925, 1985, 2045, 2105, 2165,
         2225, 2285, 2345, 2405, 2465, 2525, 2585, 2645, 2705, 2765, 2825, 2885, 2945, 3005, 3065, 3125,
         3196, 3309, 3370, 3430, 3490, 3550, 3610, 3670, 3730, 3819, 3847, 3910, 3970, 4030, 4090, 4150,
         4210, 4270, 4330, 4390, 4450, 4564, 4596, 4660, 4720, 4780, 4840, 4900, 4960, 5020, 5080, 5140,
         5200, 5260, 5320, 5380, 5440, 5500, 5560, 5620, 5680, 5740, 5800, 5860, 5920, 5980, 6040, 6100,
         6160, 6257, 6290, 6355, 6415, 6475, 6535, 6595, 6655, 6715, 6775, 6835, 6895, 6955, 7015, 7075,
         7135, 7200, 7261, 7281, 7345, 7405, 7465, 7525, 7585, 7645, 7705, 7765, 7825, 7904, 7924, 7990,
         8050, 8110, 8170, 8230, 8290, 8350, 8410, 8470, 8530, 8590, 8650, 8710, 8770, 8830, 8928, 8956,
         9020, 9080, 9140, 9200, 9260, 9320, 9380, 9440, 9500, 9560, 9620, 9671, 9703, 9770, 9830, 9925,
         245, 305, 365, 425, 485, 545, 630, 755, 815, 875, 935, 995, 1055, 1115, 1175, 1235, 1295, 1355, 1415,
         1475, 1535, 1595, 1655, 1715, 1775, 1835, 1895, 1955, 2015, 2075, 2135, 2195, 2255, 2315, 2375, 2435,
         2495, 2555, 2615, 2675, 2735, 2795, 2855, 2915, 2975, 3035, 3095, 3340, 3400, 3460, 3520, 3580, 3640,
         3700, 3775, 3880, 3940, 4000, 4060, 4120, 4180, 4240, 4300, 4360, 4420, 4505, 4630, 4690, 4750, 4810,
         4870, 4930, 4990, 5050, 5110, 5170, 5230, 5290, 5350, 5410, 5470, 5530, 5590, 5650, 5710, 5770, 5830,
         5890, 5950, 6010, 6070, 6130, 6210, 6325, 6385, 6445, 6505, 6565, 6625, 6685, 6745, 6805, 6865, 6925,
         6985, 7045, 7105, 7170, 7315, 7375, 7435, 7495, 7555, 7615, 7675, 7735, 7795, 7865, 7960, 8020, 8080,
         8140, 8200, 8260, 8320, 8380, 8440, 8500, 8560, 8620, 8680, 8740, 8800, 8880, 8990, 9050, 9110, 9170,
         9230, 9290, 9350, 9410, 9470, 9530, 9590, 9735, 9800]
s6052 = [0, 60, 120, 201, 241, 305, 365, 425, 485, 583, 631, 704, 764, 830, 905, 977, 1040, 1100, 1160, 1220,
         1280, 1340, 1400, 1460, 1520, 1580, 1668, 1729, 1817, 1869, 1935, 2010, 2070, 2090, 2155, 2215, 2275,
         2352, 2392, 2455, 2515, 2575, 2635, 2734, 2774, 2894, 2935, 3000, 3060, 3120, 3180, 3240, 3300,
         3357, 3420, 3480, 3540, 3600, 3660, 3720, 3780, 3840, 3900, 3960, 4020, 4080, 4161, 4202, 4265,
         4325, 4385, 4445, 4505, 4565, 4625, 4685, 4745, 4826, 4887, 4947, 5028, 5090, 5150, 5210, 5269,
         5330, 5431, 5552, 5632, 5793, 5855, 5914, 5975, 6040, 6100, 6160, 6220, 6280, 6340, 6400, 6460,
         6520, 6580, 6644, 6719, 6780, 6840, 6900, 6960, 7020, 7080, 7161, 7201, 7265,
         7325, 7385, 7445, 7505, 7565, 7625, 7685, 7745, 7805, 7865, 7925, 7985, 8045, 8105, 8165, 8225,
         8285, 8386, 8426, 8490, 8550, 8610, 8670, 8767, 8819, 8867, 8930, 8990, 9050, 9110, 9209, 9301,
         9365, 9425, 9485, 9545, 9605, 9711, 9771, 9835, 9925]
s6053 = [28, 90, 150, 210, 270, 342, 362, 425, 485, 545, 623, 844, 905, 965, 1025, 1073, 1135, 1195, 1255, 1315,
         1375, 1447, 1510, 1570, 1630, 1690, 1750, 1810, 1870, 1930, 1990, 2050, 2110, 2170, 2230, 2290,
         2350, 2410, 2470, 2530, 2590, 2650, 2713, 2774, 2835, 2895, 2955, 3015, 3075, 3135, 3195, 3297,
         3404, 3484, 3545, 3605, 3665, 3725, 3778, 3819, 3880, 3940, 4000, 4060, 4120, 4180, 4240, 4322, 4391,
         4455, 4515, 4575, 4635, 4695, 4766, 4826, 4890, 4950, 5010, 5070, 5130, 5190, 5250, 5310, 5370,
         5451, 5511, 5580, 5652, 5733, 5795, 5855, 5915, 5975, 6035, 6068, 6130, 6190, 6250, 6297, 6358, 6420,
         6480, 6540, 6600, 6640, 6700, 6760, 6820, 6860, 6930, 6990, 7020, 7080, 7145, 7205, 7281, 7301, 7365,
         7425, 7485, 7563, 7663, 7725, 7785, 7884, 7944, 8005, 8065, 8125, 8185, 8245, 8305, 8365, 8425, 8485,
         8545, 8605, 8665, 8725, 8827, 8867, 8930, 8990, 9050, 9110, 9170, 9230, 9290, 9369, 9410, 9475,
         9590, 9631, 9695, 9755, 9815, 9912]
s6054 = [8, 121, 175, 221, 261, 325, 402, 502, 583, 645, 705, 765, 844, 897, 993, 1055, 1115, 1175, 1235, 1295,
         1355, 1447, 1556, 1620, 1680, 1740, 1800, 1869, 1958, 2020, 2080, 2151, 2211, 2275, 2335, 2392, 2432,
         2495, 2555, 2615, 2675, 2735, 2795, 2855, 2915, 2975, 3035, 3075, 3176, 3240, 3300, 3357, 3420, 3476,
         3536, 3590, 3637, 3734, 3940, 4000, 4060, 4121, 4202, 4265, 4325, 4390, 4484, 4584, 4713, 4870, 4991,
         5108, 5170, 5249, 5289, 5350, 5410, 5470, 5530, 5590, 5650, 5710, 5773, 5826, 5894, 5960, 6020, 6096,
         6144, 6217, 6280, 6340, 6400, 6460, 6559, 6624, 6707, 6819, 6900, 6965, 7025, 7085, 7145, 7241,
         7281, 7345, 7405, 7465, 7525, 7585, 7645, 7705, 7765, 7823, 7904, 8137, 8200, 8260, 8320, 8380, 8440,
         8486, 8546, 8610, 8670, 8730, 8807, 8867, 8930, 8990, 9050, 9110, 9170, 9269, 9317, 9380, 9440, 9500,
         9560, 9620, 9680, 9740, 9831, 9880]
s6055 = [0, 40, 113, 173, 235, 281, 382, 445, 505, 563, 615, 680, 740, 800, 884, 945, 1010, 1070, 1130, 1206,
         1258, 1347, 1407, 1470, 1530, 1590, 1650, 1710, 1789, 1829, 1895, 1955, 2050, 2231, 2295, 2355,
         2432, 2513, 2575, 2635, 2693, 2754, 2820, 2880, 2940, 3000, 3095, 3148, 3215, 3297, 3355, 3420, 3480,
         3540, 3600, 3660, 3720, 3819, 3919, 4020, 4081, 4145, 4205, 4265, 4325, 4403, 4443, 4505, 4565,
         4625, 4685, 4745, 4806, 4919, 4987, 5048, 5110, 5170, 5230, 5290, 5350, 5410, 5511, 5572, 5635,
         5695, 5753, 5813, 5926, 6035, 6100, 6160, 6220, 6280, 6340, 6418, 6479, 6559, 6600, 6665, 6725,
         6785, 6880, 6940, 7020, 7070, 7121, 7173, 7235, 7295, 7355, 7462, 7554, 7602, 7665, 7725, 7785, 7843,
         7932, 8024, 8090, 8165, 8265, 8330, 8390, 8450, 8510, 8566, 8647, 8727, 8790, 8850, 8910, 8970, 9030,
         9090, 9150, 9210, 9270, 9330, 9390, 9490, 9562, 9671, 9735, 9795, 9860, 9892]
s6056 = [0, 117, 281, 362, 430, 495, 555, 615, 683, 736, 800, 860, 945, 1005, 1070, 1130, 1190, 1250, 1310, 1370,
         1407, 1515, 1616, 1708, 1789, 1849, 1915, 1975, 2035, 2095, 2155, 2215, 2275, 2332, 2372, 2435, 2495,
         2553, 2573, 2635, 2695, 2754, 2814, 2880, 2940, 3015, 3115, 3216, 3276, 3357, 3430, 3496, 3536, 3600,
         3660, 3720, 3780, 3840, 3900, 3960, 4000, 4065, 4125, 4185, 4245, 4343, 4383, 4492, 4555, 4615, 4675,
         4735, 4795, 4855, 4915, 4975, 5035, 5095, 5155, 5249, 5298, 5360, 5420, 5480, 5539, 5580, 5645, 5705,
         5765, 5825, 5885, 5934, 5995, 6177, 6240, 6300, 6360, 6418, 6519, 6580, 6640, 6700, 6765, 6841, 6900,
         6980, 7045, 7105, 7165, 7225, 7285, 7382, 7422, 7485, 7545, 7605, 7665, 7735, 7783, 7845, 7905, 7984,
         8032, 8125, 8185, 8225, 8289, 8466, 8530, 8586, 8639, 8715, 8780, 8840, 8900, 8960, 9020, 9080, 9140,
         9200, 9269, 9329, 9395, 9455, 9515, 9575, 9635, 9695, 9755, 9815, 9892]
s6057 = [40, 110, 181, 273, 462, 525, 585, 650, 710, 770, 824, 977, 1040, 1100, 1160, 1220, 1280, 1327, 1395, 1540,
         1648, 1710, 1770, 1830, 1890, 1950, 2010, 2070, 2130, 2190, 2231, 2271, 2335, 2400, 2472, 2513, 2575,
         2640, 2714, 2734, 2800, 2860, 2894, 2955, 3020, 3080, 3136, 3176, 3240, 3300, 3375, 3415, 3475, 3536,
         3597, 3660, 3720, 3758, 3899, 3960, 4020, 4081, 4181, 4245, 4305, 4360, 4411, 4584, 4665, 4730, 4806,
         4846, 4910, 4970, 5028, 5108, 5282, 5350, 5400, 5451, 5572, 5630, 5693, 5813, 5894, 6056, 6237, 6300,
         6360, 6418, 6499, 6771, 6860, 6940, 7181, 7273, 7361, 7425, 7485, 7545, 7605, 7663, 7735, 7823, 7904,
         8044, 8125, 8190, 8250, 8310, 8370, 8430, 8486, 8546, 8610, 8680, 8747, 8847, 8900, 8948, 8988, 9050,
         9110, 9170, 9269, 9321, 9406, 9470, 9535, 9600, 9671, 9759, 9880]
s6058 = [129, 195, 250, 301, 402, 465, 530, 603, 663, 725, 785, 845, 905, 965, 1030, 1090, 1150, 1215, 1286, 1335,
         1380, 1427, 1528, 1648, 1720, 1789, 1877, 1982, 2045, 2105, 2165, 2225, 2285, 2345, 2405, 2472, 2513,
         2573, 2635, 2695, 2754, 2894, 2935, 3015, 3065, 3115, 3156, 3220, 3280, 3340, 3400, 3456, 3496, 3560,
         3620, 3680, 3738, 3843, 3952, 4015, 4060, 4101, 4161, 4242, 4423, 4485, 4545, 4600, 4645, 4766, 4830,
         4895, 4959, 5020, 5065, 5108, 5169, 5249, 5350, 5415, 5475, 5530, 5572, 5620, 5690, 5753, 5854, 5915,
         5975, 6116, 6170, 6217, 6285, 6358, 6420, 6480, 6540, 6600, 6660, 6720, 6787, 7000, 7065, 7125, 7185,
         7245, 7305, 7365, 7425, 7485, 7545, 7610, 7665, 7723, 7763, 7830, 7890, 7950, 8020, 8084, 8153, 8257,
         8320, 8375, 8426, 8486, 8586, 8650, 8710, 8775, 8820, 8867, 8928, 8995, 9055, 9115, 9175, 9235, 9295,
         9349, 9578, 9640, 9700, 9765, 9831]
s6059 = [141, 200, 261, 346, 555, 1045, 1282, 1528, 1580, 1628, 2046, 2155, 2239, 2275, 2312, 2440, 2500, 2553,
         2774, 2825, 2874, 3015, 3065, 3115, 3236, 3295, 3357, 3415, 3475, 3535, 3590, 3637, 3722, 3839, 3880,
         3919, 3960, 4010, 4060, 4121, 4302, 4391, 4484, 4535, 4584, 4665, 4705, 4745, 4786, 4860, 4927, 5028,
         5161, 5200, 5229, 5358, 5451, 5520, 5590, 5652, 5882, 6035, 6096, 6164, 6297, 6418, 6519, 6560, 6600,
         6849, 6905, 6965, 7025, 7085, 7161, 7405, 7494, 7582, 7944, 8010, 8075, 8145, 8426, 8500, 8586, 8775,
         8960, 9048, 9110, 9168, 9309, 9370, 9430, 9490, 9550, 9663, 9771, 9831]
s6060 = [20, 80, 140, 200, 260, 320, 380, 443, 527, 736, 800, 870, 945, 1106, 1250, 1467, 1530, 1588, 1672,
         1889, 2022, 2151, 2215, 2271, 2344, 2533, 2585, 2633, 2746, 2820, 2895, 2955, 3025, 3096, 3136, 3217,
         3257, 3310, 3357, 3395, 3577, 3627, 3677, 3819, 3879, 4109, 4274, 4343, 4435, 4665, 4798, 5088, 5229,
         5290, 5362, 5411, 5640, 5700, 5801, 6035, 6085, 6136, 6237, 6277, 6357, 6519, 6611, 6680, 6740, 6839,
         7032, 7181, 7250, 7310, 7361, 7526, 7683, 7984, 8092, 8225, 8275, 8325, 8466, 8530, 8606, 8695, 8807,
         8867, 9249, 9301, 9430, 9480, 9530, 9631, 9680, 9731, 9831, 9925]
s6061 = [129, 551, 599, 695, 768, 816, 913, 961, 1045, 1178, 1226, 1286, 1359, 1467, 1576, 1636, 1829, 1914,
         1986, 2050, 2086, 2191, 2420, 2492, 2693, 2734, 2774, 2806, 2842, 2987, 3059, 3144, 3188, 3300, 3357,
         3417, 3477, 3698, 3759, 3831, 3871, 4044, 4181, 4494, 4772, 4844, 4960, 5068, 5116, 5285, 5526, 5614,
         5695, 5719, 5815, 5972, 6068, 6116, 6177, 6217, 6333, 6538, 6582, 6671, 6996, 7044, 7116, 7225, 7301,
         7538, 7647, 7683, 7827, 7912, 7972, 8080, 8249, 8382, 8418, 8514, 8586, 8610, 8867, 8900, 9008, 9140,
         9297, 9454, 9494, 9590, 9651]
s6062 = [133, 173, 209, 358, 571, 615, 708, 788, 852, 1258, 1315, 1588, 1636, 1684, 2251, 2348, 2645, 2673,
         2818, 2882, 2951, 3035, 3288, 3337, 3445, 3578, 3638, 3783, 3827, 3907, 3988, 4080, 4169, 4338, 4663,
         4925, 4985, 5068, 5671, 5888, 5984, 6056, 6153, 6177, 6245, 6297, 6382, 6490, 6659, 6691, 6888, 6948,
         7060, 7092, 7201, 7253, 7321, 7731, 8044, 8140, 8193, 8369, 8474, 8498, 8586, 8634, 8912, 8948, 9008,
         9056, 9116, 9249, 9273, 9550, 9622, 9695, 9839, 9888, 9925]
s6063 = [153, 302, 362, 888, 997, 1371, 2191, 2259, 2312, 2432, 2673, 2746, 3614, 3674, 3843, 4422, 4784, 4828,
         5141, 5333, 5442, 5478, 5731, 6008, 6249, 6369, 6426, 6707, 6972, 7008, 7466, 7502, 7574, 7622, 7671,
         8309, 8430, 8743, 8779, 9092, 9321, 9341, 9478, 9622, 9647, 9743, 9839]
s6064 = [177, 193, 261, 334, 370, 454, 551, 816, 1648, 1733, 1934, 1962, 2348, 2541, 2758, 2915, 3216, 3421,
         3795, 4133, 4494, 4892, 4977, 5454, 5707, 5727, 5863, 5936, 6153, 6357, 6863, 7345, 7490, 7634, 7972,
         8526, 8827, 9056, 9249]
s6065 = [189, 623, 744, 1081, 1600, 1926, 1998, 2070, 2818, 2866, 2902, 3035, 3361, 3650, 3932, 4000, 4016,
         4157, 4808, 5478, 5530, 5960, 6104, 6345, 6635, 6671, 6875, 6960, 7032, 7189, 7406, 7478, 7851, 8225,
         8610, 8743, 8803, 9020, 9345, 9381, 9502, 9622, 9912]
s6066 = [261, 852, 3216, 3349, 3493, 3686, 3771, 4482, 4591, 4687, 4764, 4788, 5430, 6032, 6285, 6671, 6996,
         7056, 7141, 7249, 8317, 8357, 8695, 9036, 9072, 9285, 9349, 9418, 9707, 9815]
s6067 = [225, 394, 1926, 1978, 3823, 3891, 4253, 5201, 5743, 5763, 7076, 7141, 7887, 8357, 8402, 9393]
s6068 = [876, 1226, 2251, 3320, 3345, 3542, 3590, 3855, 5020, 7647, 7924, 8791, 9803]
s6069 = [2416, 2448, 2999, 3228, 5309, 5924, 6888, 7189, 8490, 8683, 9562, 9767, 9839]
s6070 = [1938, 3264, 3698, 4518, 5635, 8406, 8466]
s6071 = [756, 2637, 7020, 8249, 8972, 9249]
s6072 = [3312, 6201, 7839]
s6073 = [56, 1298, 4760, 5695, 7743, 7960, 9888]
s6074 = [105, 8936]
s6075 = [2890, 8550, 8924]
s6077 = [2130, 9647]
s6078 = [1479]

levels = [6014, 6017, 6018, 6020, 6021, 6022, 6023, 6024, 6025, 6026, 6027, 6028, 6029, 6030, 6031, 6032, 6033,
          6034, 6035, 6036, 6037, 6038, 6039, 6040, 6041, 6042, 6043, 6044, 6045, 6046, 6047, 6048, 6049, 6050,
          6051, 6052, 6053, 6054, 6055, 6056, 6057, 6058, 6059, 6060, 6061, 6062, 6063, 6064, 6065, 6066, 6067,
          6068, 6069, 6070, 6071, 6072, 6073, 6074, 6075, 6077, 6078]
samples = [s6014, s6017, s6018, s6020, s6021, s6022, s6023, s6024, s6025, s6026, s6027, s6028, s6029, s6030,
           s6031, s6032, s6033, s6034, s6035, s6036, s6037, s6038, s6039, s6040, s6041, s6042, s6043, s6044,
           s6045, s6046, s6047, s6048, s6049, s6050, s6051, s6052, s6053, s6054, s6055, s6056, s6057, s6058,
           s6059, s6060, s6061, s6062, s6063, s6064, s6065, s6066, s6067, s6068, s6069, s6070, s6071, s6072,
           s6073, s6074, s6075, s6077, s6078]

x = []
y = []
for level, row in zip(levels, samples):
    x.extend(row)
    y.extend([level] * len(row))

fig, ax = plt.subplots(figsize=(10, 10))
ax.plot(x, y, 'k.', label='Samples\n$\\mu$ = 6046.88, $\\sigma$ = 8.05')
ax.set_title('Run 482, channel015, Pedestal')
ax.set_xlabel('Sample #')
ax.set_ylabel('ADC Counts')
ax.grid(True)
ax.legend(loc='upper right')

fig.subplots_adjust(left=0.081, right=0.985, top=0.964, bottom=0.059)
plt.savefig('out.png', dpi=100)
